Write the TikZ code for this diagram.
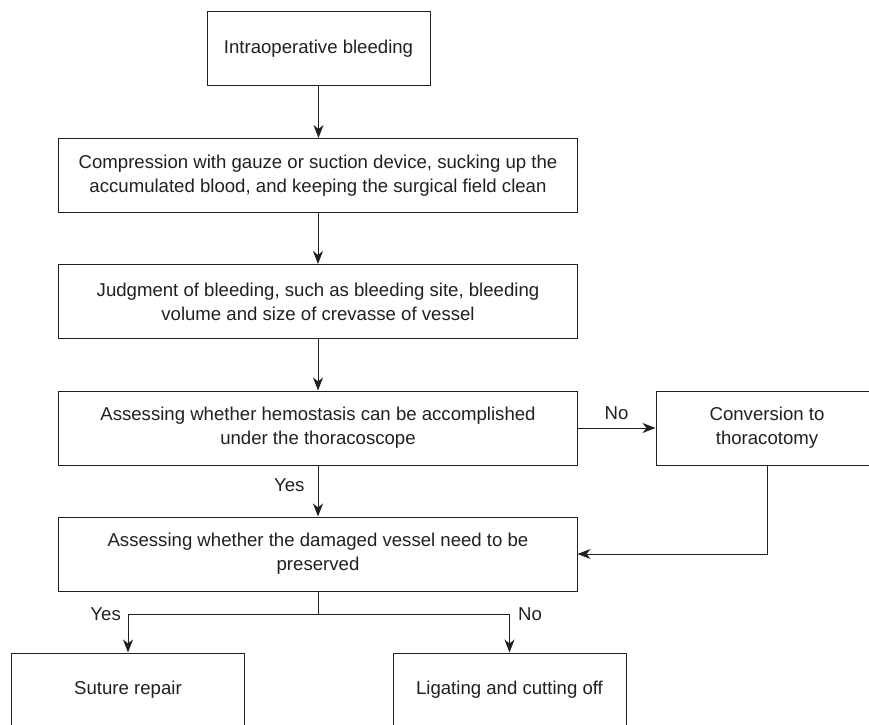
\documentclass[tikz,border=0pt]{standalone}
\usepackage{fontspec}
\setmainfont{Liberation Sans}
\usetikzlibrary{arrows.meta}
\definecolor{ink}{HTML}{231F20}
\begin{document}
\begin{tikzpicture}[x=1bp,y=-1bp,
  box/.style={draw=ink, line width=1bp, minimum height=74bp, inner sep=0pt, align=center, text=ink, font=\fontsize{18.6bp}{24bp}\selectfont},
  conn/.style={draw=ink, line width=1bp, -{Stealth[length=13bp,width=10bp,inset=4bp]}},
  plain/.style={draw=ink, line width=1bp},
  lbl/.style={text=ink, font=\fontsize{18.6bp}{22bp}\selectfont, inner sep=0pt}]
\useasboundingbox (0,0) rectangle (869,725);
\node[box, minimum width=223bp] (b1) at (318.5,49) {Intraoperative bleeding};
\node[box, minimum width=518bp] (b2) at (318,175.5) {Compression with gauze or suction device, sucking up the\\accumulated blood, and keeping the surgical field clean};
\node[box, minimum width=518bp] (b3) at (318,301.5) {Judgment of bleeding, such as bleeding site, bleeding\\volume and size of crevasse of vessel};
\node[box, minimum width=518bp] (b4) at (318,428) {Assessing whether hemostasis can be accomplished\\under the thoracoscope};
\node[box, minimum width=222bp] (b5) at (767,428) {Conversion to\\thoracotomy};
\node[box, minimum width=518bp] (b6) at (318,554) {Assessing whether the damaged vessel need to be\\preserved};
\node[box, minimum width=232bp] (b7) at (128,690) {Suture repair};
\node[box, minimum width=233bp] (b8) at (509.5,690) {Ligating and cutting off};
\coordinate (split) at (318,614);
\draw[conn] (b1.south) -- (b1.south |- b2.north);
\draw[conn] (b2.south) -- (b3.north);
\draw[conn] (b3.south) -- (b4.north);
\draw[conn] (b4.south) -- (b6.north) node[lbl, midway, left=13bp, yshift=6bp] (yes1) {Yes};
\draw[conn] (b4.east) -- (b5.west) node[lbl, midway, above=8bp] (no1) {No};
\draw[conn] (b5.south) |- (b6.east);
\draw[plain] (b6.south) -- (split);
\draw[conn] (split) -| (b7.north);
\draw[conn] (split) -| (b8.north);
\node[lbl, anchor=east] (yes2) at (121,614) {Yes};
\node[lbl, anchor=west] (no2) at (518,614) {No};
\end{tikzpicture}
\end{document}
